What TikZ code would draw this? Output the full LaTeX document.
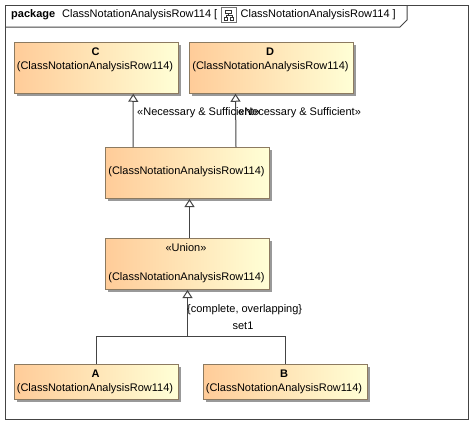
\documentclass[tikz,border=0pt]{standalone}
\usepackage{fontspec}
\setmainfont{Liberation Sans}
\usetikzlibrary{positioning,calc,arrows.meta,shadows}
\definecolor{boxline}{HTML}{8C7A60}
\definecolor{boxleft}{HTML}{FFCC99}
\definecolor{boxright}{HTML}{FFFFD6}
\definecolor{frameline}{HTML}{444444}

\begin{document}
\begin{tikzpicture}[
  x=1pt, y=-1pt,
  every node/.style={font=\fontsize{11}{13}\selectfont, text=black},
  classbox/.style={
    draw=boxline, line width=1pt, left color=boxleft, right color=boxright,
    minimum width=163.5pt, inner sep=0pt, align=center,
    drop shadow={shadow xshift=2.5pt, shadow yshift=-2.5pt, fill=black!40, opacity=1}
  },
  tallbox/.style={classbox, minimum height=51pt},
  lowbox/.style={classbox, minimum height=35pt},
  gen/.style={-{Triangle[open,fill=white,length=8pt,width=10pt]}, draw=frameline, line width=1pt},
  conn/.style={draw=frameline, line width=1pt},
  lbl/.style={inner sep=0pt, anchor=west},
]
\useasboundingbox (0,0) rectangle (473,424);

%% --- Frame and its tab ----------------------------------------------
\node[draw=frameline, line width=1pt, minimum width=463pt, minimum height=414pt, inner sep=0pt] (frame) at (237,212) {};
\coordinate (tabtop) at (407,5.5);
\coordinate (tableft) at (5.5,27);
\draw[conn] (tabtop) -- (407,20) -- (400,27) -- (tableft);

\node[lbl] (kind) at (11,15) {\textbf{package}};
\node[lbl] (title) at (62,15) {ClassNotationAnalysisRow114 [};
\node[lbl] (titleb) at (240.5,15) {ClassNotationAnalysisRow114 ]};

%% --- Diagram icon ---------------------------------------------------
\node[draw=black!55, fill=white, minimum width=15pt, minimum height=15pt, inner sep=0pt] (icon) at (229,15) {};
\draw[black!80, semithick] (225.5,10) rectangle (231,13.5);
\draw[black!80, semithick] (224,17) rectangle (227.5,20);
\draw[black!80, semithick] (230,17) rectangle (233.5,20);
\draw[black!80] (228,13.5) -- (228,15.5) (226,17) -- (226,15.5) -- (232,15.5) -- (232,17);

%% --- Classes --------------------------------------------------------
\node[tallbox] (C) at (96.25,67.75) {};
\node[anchor=center] (Cname) at (95.5,52) {\textbf{C}};
\node[anchor=center] (Cown) at (95,67) {(ClassNotationAnalysisRow114)};

\node[tallbox] (D) at (271.5,67.75) {};
\node[anchor=center] (Dname) at (270,52) {\textbf{D}};
\node[anchor=center] (Down) at (270.5,67) {(ClassNotationAnalysisRow114)};

\node[tallbox] (mid) at (187.5,173) {};
\node[anchor=center] (midown) at (186.5,172) {(ClassNotationAnalysisRow114)};

\node[tallbox] (union) at (187.5,264) {};
\node[anchor=center] (ustereo) at (186,248) {«Union»};
\node[anchor=center] (uown) at (186.5,278) {(ClassNotationAnalysisRow114)};

\node[lowbox] (A) at (96.25,382) {};
\node[anchor=center] (Aname) at (95.5,374) {\textbf{A}};
\node[anchor=center] (Aown) at (95,389) {(ClassNotationAnalysisRow114)};

\node[lowbox] (B) at (285.5,382) {};
\node[anchor=center] (Bname) at (284,374) {\textbf{B}};
\node[anchor=center] (Bown) at (284,389) {(ClassNotationAnalysisRow114)};

%% --- Generalizations ------------------------------------------------
\draw[gen] ([xshift=-54.5]mid.north) -- ([xshift=37]C.south);
\draw[gen] ([xshift=48.5]mid.north) -- ([xshift=-36]D.south);
\draw[gen] ([xshift=2]union.north) -- ([xshift=2]mid.south);

\coordinate (set1) at (187.5,336);
\draw[conn] (A.north) |- (set1) -| (B.north);
\draw[gen] (set1) -- (union.south);

%% --- Labels ---------------------------------------------------------
\node[lbl] (nsc) at (137,112.5) {«Necessary \& Sufficient»};
\node[lbl] (nsd) at (238,112.5) {«Necessary \& Sufficient»};
\node[lbl] (setprops) at (187,309.5) {\{complete, overlapping\}};
\node[anchor=center] (setname) at (243,325.5) {set1};

\end{tikzpicture}
\end{document}
